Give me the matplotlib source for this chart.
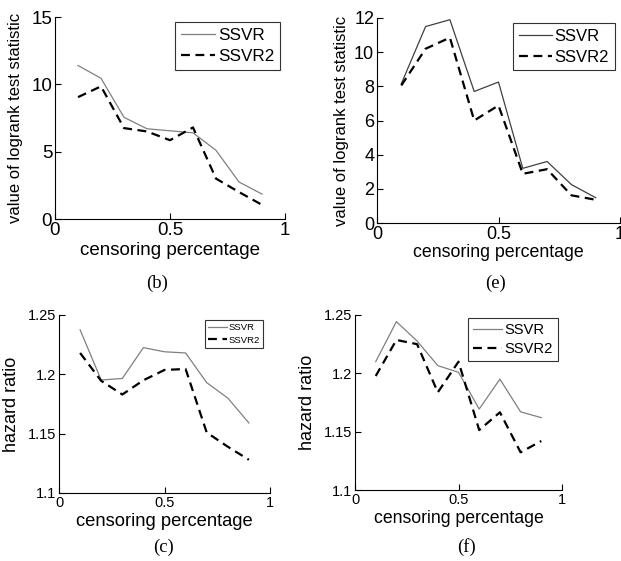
import matplotlib
matplotlib.use("Agg")
import matplotlib.pyplot as plt

plt.rcParams["font.family"] = ["Liberation Sans", "DejaVu Sans"]

censoring = [0.1, 0.2, 0.3, 0.4, 0.5, 0.6, 0.7, 0.8, 0.9]

# (b) logrank statistic
b_ssvr = [11.4, 10.45, 7.55, 6.7, 6.55, 6.4, 5.1, 2.75, 1.85]
b_ssvr2 = [9.05, 9.85, 6.75, 6.5, 5.85, 6.8, 3.0, 2.0, 1.05]

# (e) logrank statistic
e_ssvr = [8.15, 11.5, 11.9, 7.7, 8.25, 3.2, 3.6, 2.25, 1.48]
e_ssvr2 = [8.05, 10.2, 10.85, 6.0, 6.88, 2.88, 3.15, 1.62, 1.36]

# (c) hazard ratio
c_ssvr = [1.2375, 1.1952, 1.1965, 1.2225, 1.219, 1.218, 1.193, 1.18, 1.159]
c_ssvr2 = [1.218, 1.1945, 1.183, 1.195, 1.2037, 1.2045, 1.151, 1.139, 1.128]

# (f) hazard ratio
f_ssvr = [1.21, 1.2443, 1.2277, 1.2066, 1.2009, 1.1694, 1.195, 1.167, 1.162]
f_ssvr2 = [1.1977, 1.2286, 1.225, 1.1837, 1.21, 1.1514, 1.1666, 1.1323, 1.142]

W, H = 621, 561
fig = plt.figure(figsize=(W / 100, H / 100), dpi=100)


def make_ax(x0, y0, x1, y1):
    return fig.add_axes([x0 / W, (H - y1) / H, (x1 - x0) / W, (y1 - y0) / H])


def style(ax, tick_fs):
    for s in ("top", "right"):
        ax.spines[s].set_visible(False)
    for s in ("left", "bottom"):
        ax.spines[s].set_linewidth(0.8)
    ax.tick_params(direction="in", length=4, width=0.8, labelsize=tick_fs, pad=2)
    ax.set_xlim(0, 1)
    ax.set_xticks([0, 0.5, 1])
    ax.set_xticklabels(["0", "0.5", "1"])


def draw(ax, y1, y2, c1, leg_fs, anchor):
    ax.plot(censoring, y1, color=c1, lw=0.9, label="SSVR")
    ax.plot(censoring, y2, color="black", lw=1.6, ls=(0, (4, 2.5)), label="SSVR2")
    leg = ax.legend(loc="upper right", bbox_to_anchor=anchor, fontsize=leg_fs,
                    fancybox=False, framealpha=1, edgecolor="#333333",
                    handlelength=2.0, handletextpad=0.15, borderpad=0.35,
                    labelspacing=0.35, borderaxespad=0)
    leg.get_frame().set_linewidth(0.8)


# (b)
ax_b = make_ax(55, 17, 285, 219)
draw(ax_b, b_ssvr, b_ssvr2, "#808080", 12.3, (0.978, 0.975))
style(ax_b, 13.5)
ax_b.set_ylim(0, 15)
ax_b.set_yticks([0, 5, 10, 15])
ax_b.set_xlabel("censoring percentage", fontsize=13.5, labelpad=2)
ax_b.set_ylabel("value of logrank test statistic", fontsize=12, labelpad=6)

# (e)
ax_e = make_ax(377, 18, 620, 223)
draw(ax_e, e_ssvr, e_ssvr2, "#404040", 12, (0.979, 0.976))
style(ax_e, 13)
ax_e.set_ylim(0, 12)
ax_e.set_yticks([0, 2, 4, 6, 8, 10, 12])
ax_e.set_xlabel("censoring percentage", fontsize=12.8, labelpad=1)
ax_e.set_ylabel("value of logrank test statistic", fontsize=12, labelpad=4)

# (c)
ax_c = make_ax(59, 315, 270, 493)
draw(ax_c, c_ssvr, c_ssvr2, "#808080", 6.8, (0.967, 0.972))
style(ax_c, 10.5)
ax_c.set_ylim(1.1, 1.25)
ax_c.set_yticks([1.1, 1.15, 1.2, 1.25])
ax_c.set_yticklabels(["1.1", "1.15", "1.2", "1.25"])
ax_c.set_xlabel("censoring percentage", fontsize=13.2, labelpad=2)
ax_c.set_ylabel("hazard ratio", fontsize=13, labelpad=6)

# (f)
ax_f = make_ax(355, 315, 562, 490)
draw(ax_f, f_ssvr, f_ssvr2, "#808080", 10.6, (0.981, 0.983))
style(ax_f, 10.5)
ax_f.set_ylim(1.1, 1.25)
ax_f.set_yticks([1.1, 1.15, 1.2, 1.25])
ax_f.set_yticklabels(["1.1", "1.15", "1.2", "1.25"])
ax_f.set_xlabel("censoring percentage", fontsize=12.7, labelpad=2)
ax_f.set_ylabel("hazard ratio", fontsize=13, labelpad=6)

# sub-figure captions
cap = dict(ha="center", va="center", fontsize=13.4, family=["Liberation Serif", "DejaVu Serif"])
fig.text(157 / W, 1 - 283 / H, "(b)", **cap)
fig.text(495 / W, 1 - 283 / H, "(e)", **cap)
fig.text(163 / W, 1 - 547 / H, "(c)", **cap)
fig.text(467 / W, 1 - 547 / H, "(f)", **cap)

fig.savefig("out.png", dpi=100)
